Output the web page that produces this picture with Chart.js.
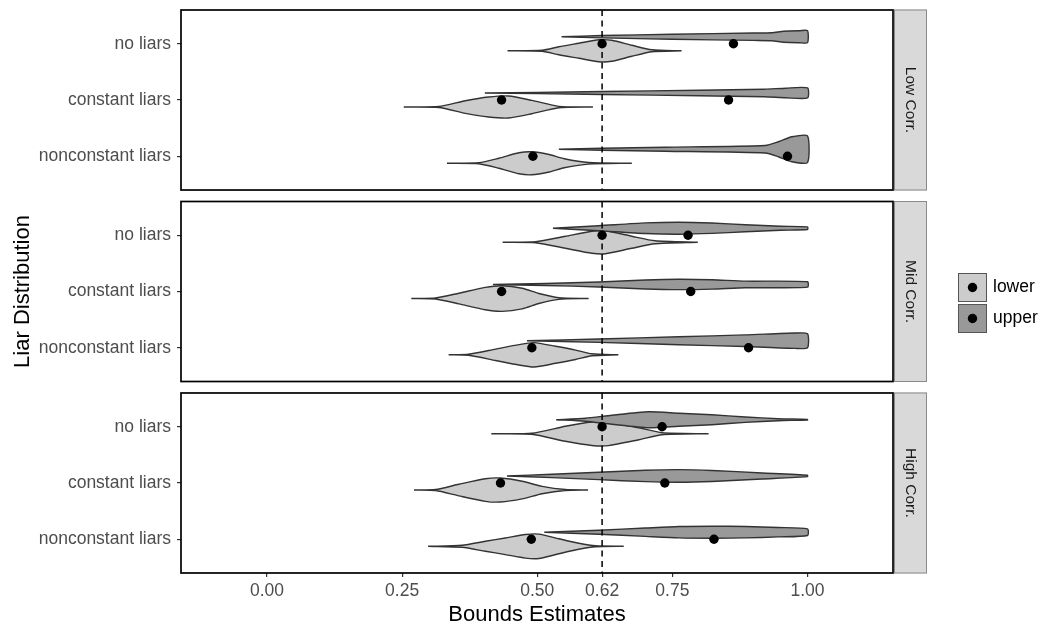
<!DOCTYPE html>
<html><head><meta charset="utf-8">
<script src="https://cdn.jsdelivr.net/npm/chart.js@4.4.1/dist/chart.umd.min.js"></script>
<style>html,body{margin:0;padding:0;background:#fff;}canvas{display:block;}</style>
</head><body>
<canvas id="c" width="1042" height="628"></canvas>
<script>
// ---------- data ----------
const categories = ['no liars', 'constant liars', 'nonconstant liars'];
const panels = ['Low Corr.', 'Mid Corr.', 'High Corr.'];
const groups = ['lower', 'upper'];
const xTicks = [0, 0.25, 0.5, 0.62, 0.75, 1];
const refValue = 0.62;

// means per panel (Low, Mid, High) x category
const lowerMeans = [[0.620, 0.434, 0.492], [0.620, 0.434, 0.490], [0.620, 0.432, 0.489]];
const upperMeans = [[0.863, 0.854, 0.963], [0.779, 0.784, 0.891], [0.731, 0.736, 0.827]];

// violin density profiles: [value, density] per category
const lowerDensLow = [
  [[0.445,0],[0.509,0.5],[0.540,4],[0.577,7.5],[0.614,11],[0.638,10.5],[0.675,5.5],[0.712,1],[0.767,0]],
  [[0.253,0],[0.318,0.5],[0.367,6.3],[0.410,10],[0.447,11],[0.490,6.7],[0.540,0.7],[0.603,0]],
  [[0.333,0],[0.392,0.5],[0.429,5],[0.466,10.5],[0.490,11.5],[0.520,9],[0.550,4.5],[0.595,0.8],[0.675,0]]
];
const upperDensLow = [
  [[0.545,0],[0.62,1.2],[0.75,2.5],[0.90,3.7],[0.934,4],[0.956,5.5],[0.985,6],[1.0,6]],
  [[0.403,0],[0.50,0.6],[0.62,1.5],[0.80,2.8],[0.92,3.8],[0.96,4.8],[1.0,5]],
  [[0.540,0],[0.62,1],[0.737,2],[0.922,3.8],[0.946,7.5],[0.971,12.5],[1.0,13.3]]
];
const lowerDensMid = [
  [[0.436,0],[0.497,0.5],[0.552,6],[0.601,11],[0.626,11.5],[0.675,6],[0.718,1.5],[0.797,0]],
  [[0.267,0],[0.312,0.5],[0.355,5.3],[0.404,11.2],[0.435,12.8],[0.472,10.3],[0.503,5],[0.540,0.8],[0.595,0]],
  [[0.336,0],[0.373,0.5],[0.423,5.7],[0.466,10.2],[0.494,12.2],[0.534,8.5],[0.571,4.7],[0.601,1],[0.650,0]]
];
const upperDensMid = [
  [[0.529,0],[0.614,2.5],[0.700,5.3],[0.762,6],[0.823,5.2],[0.885,3.5],[0.95,2],[1.0,1.3]],
  [[0.418,0],[0.515,1],[0.614,2.5],[0.700,4.5],[0.762,5.2],[0.823,4.7],[0.885,3.3],[1.0,2.7]],
  [[0.481,0],[0.614,1.7],[0.762,4],[0.885,5.8],[0.977,7.7],[1.0,7]]
];
const lowerDensHigh = [
  [[0.415,0],[0.490,0.5],[0.552,7.5],[0.601,11.7],[0.632,11.8],[0.688,6],[0.731,1],[0.817,0]],
  [[0.272,0],[0.312,0.5],[0.355,5.8],[0.404,11.3],[0.432,12],[0.472,8.8],[0.509,3.7],[0.552,0.5],[0.594,0]],
  [[0.298,0],[0.361,1],[0.404,5],[0.441,8.3],[0.478,11.8],[0.503,12.2],[0.540,7.5],[0.577,3],[0.608,0.5],[0.660,0]]
];
const upperDensHigh = [
  [[0.535,0],[0.589,1.5],[0.638,4.5],[0.706,8],[0.762,6.5],[0.823,5],[0.885,2.7],[0.946,1],[1.0,0.3]],
  [[0.444,0],[0.527,1.7],[0.614,3.7],[0.700,5.7],[0.762,6.3],[0.823,5.5],[0.916,3],[1.0,0.7]],
  [[0.513,0],[0.614,2],[0.700,4.2],[0.762,5.7],[0.823,6],[0.885,5.7],[0.946,4.7],[1.0,3.3]]
];

// ---------- layout helpers ----------
const FONT = '"Liberation Sans", Arial, Helvetica, sans-serif';
const PANEL_H = 3.2, GAP = 0.204, DODGE = 0.125, DENS = 1 / 56.25;
const Y_MAX = 2 * (PANEL_H + GAP) + PANEL_H;
const panelStart = i => i * (PANEL_H + GAP);
const catPos = (i, j) => panelStart(i) + 0.6 + j;
const fills = ['#cccccc', '#999999'];
const lowerDens = [lowerDensLow, lowerDensMid, lowerDensHigh];
const upperDens = [upperDensLow, upperDensMid, upperDensHigh];

const datasets = [];
function violin(dens, center, g) {
  const top = dens.map(([x, d]) => ({x: x, y: center - d * DENS}));
  const bot = dens.slice().reverse().map(([x, d]) => ({x: x, y: center + d * DENS}));
  return {
    label: groups[g], data: top.concat(bot), fill: 'shape',
    backgroundColor: fills[g], borderColor: '#333333', borderWidth: 1.4,
    pointRadius: 0, pointHoverRadius: 0, tension: 0.22, order: g === 0 ? 3 : 2
  };
}
panels.forEach((p, i) => {
  categories.forEach((c, j) => {
    datasets.push(violin(lowerDens[i][j], catPos(i, j) + DODGE, 0));
    datasets.push(violin(upperDens[i][j], catPos(i, j) - DODGE, 1));
  });
});
// reference dashed line per panel
const refData = [];
panels.forEach((p, i) => {
  refData.push({x: refValue, y: panelStart(i)}, {x: refValue, y: panelStart(i) + PANEL_H}, {x: refValue, y: null});
});
datasets.push({label: 'ref', data: refData, borderColor: '#000', borderWidth: 1.5, borderDash: [6, 4.5],
  pointRadius: 0, fill: false, spanGaps: false, tension: 0, order: 1});
// means
[lowerMeans, upperMeans].forEach((means, g) => {
  const pts = [];
  means.forEach((row, i) => row.forEach((v, j) => pts.push({x: v, y: catPos(i, j)})));
  datasets.push({label: groups[g] + ' mean', data: pts, showLine: false, pointRadius: 4.7,
    pointBackgroundColor: '#000', pointBorderWidth: 0, order: 0});
});

const catTicks = [];
panels.forEach((p, i) => categories.forEach((c, j) => catTicks.push({value: catPos(i, j), label: c})));

const facetPlugin = {
  id: 'facets',
  afterDraw(chart) {
    const {ctx, chartArea: a, scales: {y}} = chart;
    ctx.save();
    panels.forEach((name, i) => {
      const t = y.getPixelForValue(panelStart(i));
      const b = y.getPixelForValue(panelStart(i) + PANEL_H);
      // panel border
      ctx.strokeStyle = '#000'; ctx.lineWidth = 1.7;
      ctx.strokeRect(a.left, t, a.right - a.left, b - t);
      // strip
      const sx = a.right + 1, sw = 33;
      ctx.fillStyle = '#d9d9d9';
      ctx.fillRect(sx, t - 0.5, sw, b - t + 1);
      ctx.strokeStyle = '#8a8a8a'; ctx.lineWidth = 1;
      ctx.strokeRect(sx + 0.5, t, sw - 1, b - t);
      ctx.save();
      ctx.translate(sx + sw / 2, (t + b) / 2);
      ctx.rotate(Math.PI / 2);
      ctx.fillStyle = '#1a1a1a';
      ctx.font = '15.5px ' + FONT;
      ctx.textAlign = 'center'; ctx.textBaseline = 'middle';
      ctx.fillText(name, 0, 0);
      ctx.restore();
    });
    // legend
    const lx = a.right + 65, ly = 273, k = 29;
    groups.forEach((g, n) => {
      const top = ly + n * (k + 2);
      ctx.fillStyle = fills[n];
      ctx.fillRect(lx, top, k, k);
      ctx.strokeStyle = '#555'; ctx.lineWidth = 1;
      ctx.strokeRect(lx + 0.5, top + 0.5, k - 1, k - 1);
      ctx.fillStyle = '#000';
      ctx.beginPath(); ctx.arc(lx + k / 2, top + k / 2, 4.7, 0, Math.PI * 2); ctx.fill();
      ctx.font = '17.5px ' + FONT;
      ctx.textAlign = 'left'; ctx.textBaseline = 'middle';
      ctx.fillText(g, lx + k + 6, top + k / 2);
    });
    ctx.restore();
  }
};

new Chart(document.getElementById('c'), {
  type: 'line',
  data: {datasets: datasets},
  plugins: [facetPlugin],
  options: {
    responsive: false, animation: false, devicePixelRatio: 1,
    layout: {padding: {left: 0, top: 10, right: 149, bottom: 0}},
    plugins: {legend: {display: false}, tooltip: {enabled: false}},
    events: [],
    scales: {
      x: {
        type: 'linear', min: -0.1591, max: 1.1582,
        afterBuildTicks: s => { s.ticks = xTicks.map(v => ({value: v})); },
        afterFit: s => { s.height = 55; s.paddingLeft = 0; s.paddingRight = 0; },
        ticks: {callback: v => Number(v).toFixed(2), color: '#4d4d4d', font: {size: 17.5, family: FONT},
          autoSkip: false, maxRotation: 0, padding: 4},
        grid: {drawOnChartArea: false, drawTicks: true, tickLength: 4, color: '#333', lineWidth: 1.2},
        border: {display: false},
        title: {display: true, text: 'Bounds Estimates', color: '#000', font: {size: 22, family: FONT},
          padding: {top: 0, bottom: 0}}
      },
      y: {
        type: 'linear', reverse: true, min: 0, max: Y_MAX,
        afterBuildTicks: s => { s.ticks = catTicks.map(t => ({value: t.value})); },
        afterFit: s => { s.width = 181; s.paddingTop = 0; s.paddingBottom = 0; },
        ticks: {
          callback: v => { const t = catTicks.find(c => Math.abs(c.value - v) < 1e-6); return t ? t.label : ''; },
          color: '#4d4d4d', font: {size: 17.5, family: FONT}, autoSkip: false, padding: 6
        },
        grid: {drawOnChartArea: false, drawTicks: true, tickLength: 4, color: '#333', lineWidth: 1.2},
        border: {display: false},
        title: {display: true, text: 'Liar Distribution', color: '#000', font: {size: 22, family: FONT},
          padding: {top: 10, bottom: 0}}
      }
    }
  }
});
</script>
</body></html>
